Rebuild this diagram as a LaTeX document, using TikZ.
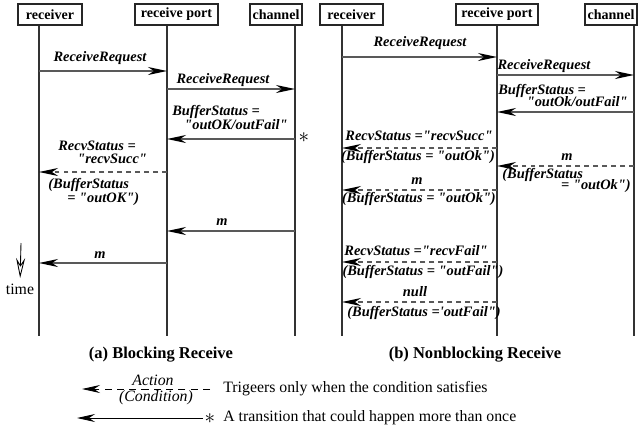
\documentclass[tikz,border=0pt]{standalone}
\usepackage{fontspec}
\setmainfont{Liberation Serif}[Ligatures=TeXOff]
\usetikzlibrary{arrows.meta, positioning}

\begin{document}
\begin{tikzpicture}[x=0.02cm, y=-0.02cm,
    head/.style={draw=black!85, line width=0.9pt, rectangle, inner sep=0pt, minimum height=0.42cm, font=\fontsize{8}{9}\selectfont\bfseries},
    life/.style={draw=black!80, line width=0.6pt},
    msg/.style={draw=black!65, line width=0.75pt, -{Stealth[length=0.38cm, width=0.16cm, inset=0.12cm, color=black]}},
    cond/.style={msg, dash pattern=on 2.8pt off 2.3pt},
    legmsg/.style={draw=black, line width=0.5pt, -{Stealth[length=0.36cm, width=0.16cm, inset=0.12cm]}},
    legcond/.style={legmsg, dash pattern=on 4pt off 3pt},
    timearr/.style={draw=black, line width=0.5pt, shorten >=3pt, -{Stealth[open, length=0.4cm, width=0.18cm, inset=0.14cm]}},
    lbl/.style={inner sep=0pt, font=\fontsize{8.2}{8.5}\selectfont\bfseries\itshape},
    subcap/.style={inner sep=0pt, font=\fontsize{9.4}{10}\selectfont\bfseries},
    note/.style={inner sep=0pt, font=\fontsize{9}{10}\selectfont},
    star/.style={inner sep=0pt, font=\large}]
    \useasboundingbox (0,0) rectangle (639,437);

    % (a) blocking receive
    \node[head, minimum width=1.28cm] (recvA) at (50,14.5) {receiver};
    \node[head, minimum width=1.66cm] (portA) at (176.5,14.5) {receive port};
    \node[head, minimum width=1.04cm] (chanA) at (276,14.5) {channel};
    \coordinate (recvAend) at (39,336);
    \coordinate (portAend) at (167,336);
    \coordinate (chanAend) at (295,336);
    \draw[life] (recvAend |- recvA.south) -- (recvAend);
    \draw[life] (portAend |- portA.south) -- (portAend);
    \draw[life] (chanAend |- chanA.south) -- (chanAend);

    \node[lbl] (rqA1) at (100,58) {ReceiveRequest};
    \draw[msg] (recvAend |- 0,71) -- (portAend |- 0,71);
    \node[lbl] (rqA2) at (223,80) {ReceiveRequest};
    \draw[msg] (portAend |- 0,89) -- (chanAend |- 0,89);
    \node[lbl, anchor=west] (bsA1) at (172,112) {BufferStatus =};
    \node[lbl, anchor=east] (bsA2) at (288,125) {"outOK/outFail"};
    \draw[msg] (chanAend |- 0,139) -- (portAend |- 0,139);
    \node[star] (starA) at (304,138) {$\ast$};
    \node[lbl, anchor=west] (rsA1) at (58,146) {RecvStatus =};
    \node[lbl, anchor=west] (rsA2) at (77,159) {"recvSucc"};
    \draw[cond] (portAend |- 0,172) -- (recvAend |- 0,172);
    \node[lbl, anchor=west] (bsA3) at (48,185) {(BufferStatus};
    \node[lbl, anchor=west] (bsA4) at (67,199) {= "outOK")};
    \node[lbl] (mA1) at (222,222) {m};
    \draw[msg] (chanAend |- 0,231) -- (portAend |- 0,231);
    \node[lbl] (mA2) at (100,255) {m};
    \draw[msg] (portAend |- 0,263) -- (recvAend |- 0,263);

    \node[note] (time) at (20,289) {time};
    \coordinate (timetop) at (21,243);
    \draw[timearr] (timetop) -- (time.north);

    % (b) nonblocking receive
    \node[head, minimum width=1.26cm] (recvB) at (351.5,14.5) {receiver};
    \node[head, minimum width=1.64cm] (portB) at (497,14.5) {receive port};
    \node[head, minimum width=1.04cm] (chanB) at (611,14.5) {channel};
    \coordinate (recvBend) at (342,336);
    \coordinate (portBend) at (497,336);
    \coordinate (chanBend) at (634,336);
    \draw[life] (recvBend |- recvB.south) -- (recvBend);
    \draw[life] (portBend |- portB.south) -- (portBend);
    \draw[life] (chanBend |- chanB.south) -- (chanBend);

    \node[lbl] (rqB1) at (420,43) {ReceiveRequest};
    \draw[msg] (recvBend |- 0,57) -- (portBend |- 0,57);
    \node[lbl] (rqB2) at (544,66) {ReceiveRequest};
    \draw[msg] (portBend |- 0,75) -- (chanBend |- 0,75);
    \node[lbl, anchor=west] (bsB1) at (498,91) {BufferStatus =};
    \node[lbl, anchor=east] (bsB2) at (628,102) {"outOk/outFail"};
    \draw[msg] (chanBend |- 0,112) -- (portBend |- 0,112);
    \node[lbl] (rsB1) at (419,136) {RecvStatus ="recvSucc"};
    \draw[cond] (portBend |- 0,148) -- (recvBend |- 0,148);
    \node[lbl] (bsB3) at (418,157) {(BufferStatus = "outOk")};
    \node[lbl] (mB1) at (567,157) {m};
    \draw[cond] (chanBend |- 0,166) -- (portBend |- 0,166);
    \node[lbl, anchor=west] (bsB4) at (502,175) {(BufferStatus};
    \node[lbl, anchor=east] (bsB5) at (631,186) {= "outOk")};
    \node[lbl] (mB2) at (417,181) {m};
    \draw[cond] (portBend |- 0,190) -- (recvBend |- 0,190);
    \node[lbl] (bsB6) at (419,199) {(BufferStatus = "outOk")};
    \node[lbl] (rsB2) at (416,251) {RecvStatus ="recvFail"};
    \draw[cond] (portBend |- 0,262) -- (recvBend |- 0,262);
    \node[lbl] (bsB7) at (423,272) {(BufferStatus = "outFail")};
    \node[lbl] (nullB) at (415,292) {null};
    \draw[cond] (portBend |- 0,302) -- (recvBend |- 0,302);
    \node[lbl] (bsB8) at (424,313) {(BufferStatus ='outFail")};

    % captions
    \node[subcap] (capA) at (161,355) {(a) Blocking Receive};
    \node[subcap] (capB) at (475,355) {(b) Nonblocking Receive};

    % legend
    \node[note, anchor=west] (legtxt1) at (223,389) {Trigeers only when the condition satisfies};
    \coordinate (leg1start) at (210,389);
    \coordinate (leg1tip) at (82,389);
    \draw[legcond] (leg1start) -- (leg1tip);
    \node[note, font=\fontsize{9}{10}\selectfont\itshape] (act) at (153,380) {Action};
    \node[note, font=\fontsize{9}{10}\selectfont\itshape] (cnd) at (156,398) {(Condition)};

    \node[note, anchor=west] (legtxt2) at (223,418) {A transition that could happen more than once};
    \coordinate (leg2start) at (203,418);
    \coordinate (leg2tip) at (77,418);
    \draw[legmsg] (leg2start) -- (leg2tip);
    \node[star] (legstar) at (210,419) {$\ast$};
\end{tikzpicture}
\end{document}
